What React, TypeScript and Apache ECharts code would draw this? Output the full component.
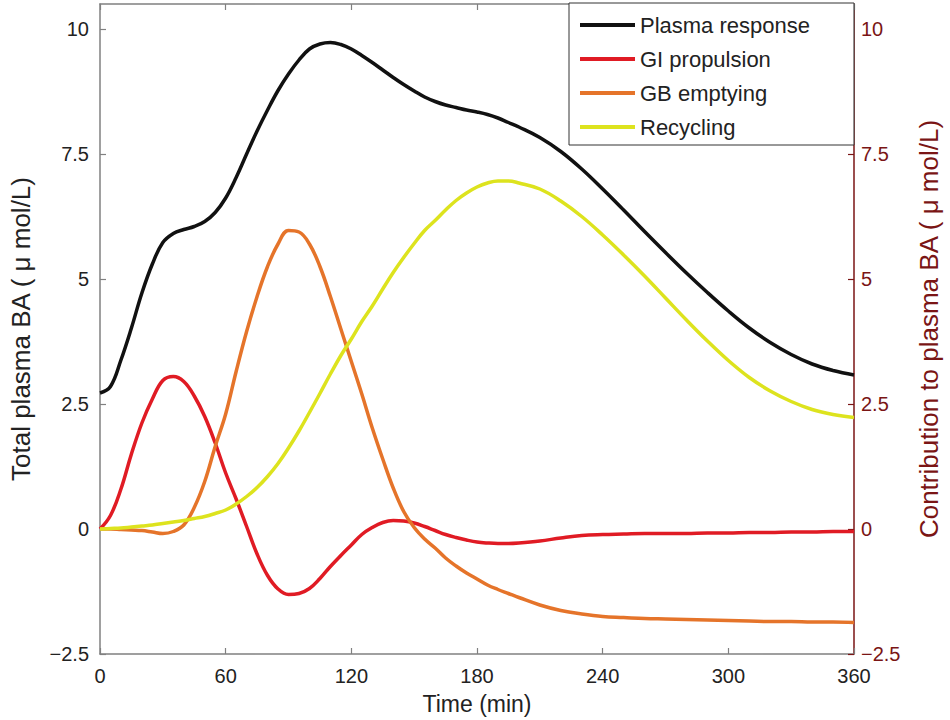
import React, { useEffect, useRef } from "react";
import * as echarts from "echarts";

const time = [
  0, 5, 10, 15, 20, 25, 30, 35, 40, 45, 50, 55, 60, 65, 70, 75, 80, 85, 90, 95, 100,
  105, 110, 115, 120, 125, 130, 135, 140, 145, 150, 155, 160, 165, 170, 175, 180, 185,
  190, 195, 200, 210, 220, 230, 240, 250, 260, 270, 280, 290, 300, 310, 320, 330, 340,
  350, 360,
];

const plasmaResponse = [
  2.72, 2.85, 3.38, 4.02, 4.72, 5.3, 5.73, 5.91, 5.99, 6.05, 6.15, 6.33, 6.62, 7.03, 7.5,
  7.96, 8.38, 8.77, 9.1, 9.38, 9.6, 9.7, 9.73, 9.69, 9.6, 9.47, 9.33, 9.18, 9.03, 8.89,
  8.76, 8.64, 8.55, 8.48, 8.43, 8.38, 8.34, 8.29, 8.22, 8.13, 8.04, 7.83, 7.55, 7.2, 6.8,
  6.38, 5.95, 5.53, 5.12, 4.73, 4.36, 4.02, 3.73, 3.49, 3.3, 3.17, 3.08,
];

const giPropulsion = [
  0, 0.27, 0.8, 1.5, 2.12, 2.6, 2.97, 3.05, 2.95, 2.66, 2.25, 1.72, 1.12, 0.6, 0.05, -0.5,
  -0.93, -1.2, -1.31, -1.29, -1.19, -0.99, -0.75, -0.53, -0.32, -0.11, 0.03, 0.13, 0.17,
  0.16, 0.12, 0.05, -0.03, -0.11, -0.17, -0.22, -0.26, -0.28, -0.29, -0.29, -0.28, -0.24,
  -0.18, -0.13, -0.11, -0.1, -0.09, -0.09, -0.09, -0.08, -0.08, -0.07, -0.07, -0.06, -0.06,
  -0.05, -0.05,
];

const gbEmptying = [
  0, 0, -0.01, -0.02, -0.03, -0.06, -0.09, -0.05, 0.08, 0.43, 0.95, 1.65, 2.3, 3.15, 3.95,
  4.65, 5.25, 5.7, 5.97, 5.94, 5.7, 5.25, 4.65, 4.0, 3.35, 2.7, 2.02, 1.4, 0.82, 0.35, 0.03,
  -0.2, -0.38, -0.58, -0.74, -0.88, -1.0, -1.12, -1.21, -1.29, -1.37, -1.52, -1.63, -1.7,
  -1.75, -1.77, -1.79, -1.8, -1.81, -1.82, -1.83, -1.84, -1.85, -1.85, -1.86, -1.86, -1.87,
];

const recycling = [
  0, 0.01, 0.02, 0.04, 0.06, 0.08, 0.11, 0.14, 0.17, 0.21, 0.25, 0.31, 0.38, 0.5, 0.65,
  0.83, 1.05, 1.31, 1.62, 1.96, 2.33, 2.71, 3.1, 3.47, 3.8, 4.15, 4.46, 4.8, 5.13, 5.43,
  5.71, 5.97, 6.17, 6.38, 6.57, 6.72, 6.84, 6.92, 6.96, 6.96, 6.92, 6.8, 6.56, 6.25, 5.88,
  5.48, 5.06, 4.62, 4.18, 3.76, 3.37, 3.03, 2.76, 2.55, 2.39, 2.29, 2.23,
];

const seriesNames = ["Plasma response", "GI propulsion", "GB emptying", "Recycling"];
const xTicks = { min: 0, max: 360, interval: 60 };
const yTicks = { min: -2.5, max: 10.5, interval: 2.5 };

const FONT = '"Liberation Sans", Arial, Helvetica, sans-serif';
const GREY = "#808080";
const DARKRED = "#7a1515";
const COLORS = ["#111111", "#e01b24", "#e5742a", "#dde31e"];

const fmt = (v: number) => (v < 0 ? "\u2212" + Math.abs(v) : String(v));

export default function App() {
  const ref = useRef<HTMLDivElement>(null);
  useEffect(() => {
    if (!ref.current) return;
    const chart = echarts.init(ref.current, undefined, { renderer: "svg" });
    const values = [plasmaResponse, giPropulsion, gbEmptying, recycling];
    const series = values.map((arr, i) => ({
      name: seriesNames[i],
      type: "line",
      yAxisIndex: i === 0 ? 0 : 1,
      data: time.map((t, k) => [t, arr[k]]),
      showSymbol: false,
      symbol: "none",
      smooth: 0.4,
      lineStyle: { color: COLORS[i], width: 3.5 },
      itemStyle: { color: COLORS[i] },
    }));
    chart.setOption({
      animation: false,
      backgroundColor: "#ffffff",
      textStyle: { fontFamily: FONT },
      grid: { left: 94, right: 92, top: 4, bottom: 65, containLabel: false },
      legend: {
        orient: "vertical",
        left: 569,
        top: 3,
        data: seriesNames,
        icon: "rect",
        padding: [11, 44, 7, 11],
        itemGap: 12,
        itemWidth: 55,
        itemHeight: 4,
        backgroundColor: "#ffffff",
        borderColor: "#333333",
        borderWidth: 1,
        borderRadius: 0,
        textStyle: { fontFamily: FONT, fontSize: 22, color: "#222222", lineHeight: 22 },
      },
      xAxis: [
        {
          type: "value",
          position: "bottom",
          ...xTicks,
          name: "Time (min)",
          nameLocation: "middle",
          nameGap: 38,
          nameTextStyle: { fontFamily: FONT, fontSize: 23, color: "#222222" },
          axisLine: { show: true, onZero: false, lineStyle: { color: GREY, width: 1.5 } },
          axisTick: { show: true, inside: true, length: 6, lineStyle: { color: GREY, width: 1.2 } },
          axisLabel: { fontFamily: FONT, fontSize: 20, color: "#222222", margin: 12 },
          splitLine: { show: false },
        },
        {
          type: "value",
          position: "top",
          ...xTicks,
          axisLine: { show: true, onZero: false, lineStyle: { color: GREY, width: 1.5 } },
          axisTick: { show: true, inside: true, length: 6, lineStyle: { color: GREY, width: 1.2 } },
          axisLabel: { show: false },
          splitLine: { show: false },
        },
      ],
      yAxis: [
        {
          type: "value",
          position: "left",
          ...yTicks,
          name: "Total plasma BA ( \u03bc mol/L)",
          nameLocation: "middle",
          nameRotate: 90,
          nameGap: 66,
          nameTextStyle: { fontFamily: FONT, fontSize: 26, color: "#222222" },
          axisLine: { show: true, onZero: false, lineStyle: { color: GREY, width: 1.5 } },
          axisTick: { show: true, inside: true, length: 6, lineStyle: { color: GREY, width: 1.2 } },
          axisLabel: {
            fontFamily: FONT,
            fontSize: 20,
            color: "#222222",
            margin: 11,
            showMaxLabel: false,
            formatter: fmt,
          },
          splitLine: { show: false },
        },
        {
          type: "value",
          position: "right",
          ...yTicks,
          name: "Contribution to plasma BA ( \u03bc mol/L)",
          nameLocation: "middle",
          nameRotate: 90,
          nameGap: 62,
          nameTextStyle: { fontFamily: FONT, fontSize: 26, color: DARKRED },
          axisLine: { show: true, onZero: false, lineStyle: { color: DARKRED, width: 1.5 } },
          axisTick: { show: true, inside: true, length: 6, lineStyle: { color: DARKRED, width: 1.2 } },
          axisLabel: {
            fontFamily: FONT,
            fontSize: 20,
            color: DARKRED,
            margin: 7,
            showMaxLabel: false,
            formatter: fmt,
          },
          splitLine: { show: false },
        },
      ],
      series,
    });
    return () => chart.dispose();
  }, []);
  return (
    <div
      ref={ref}
      style={{ position: "fixed", left: 0, top: 0, width: 950, height: 720, background: "#fff" }}
    />
  );
}
